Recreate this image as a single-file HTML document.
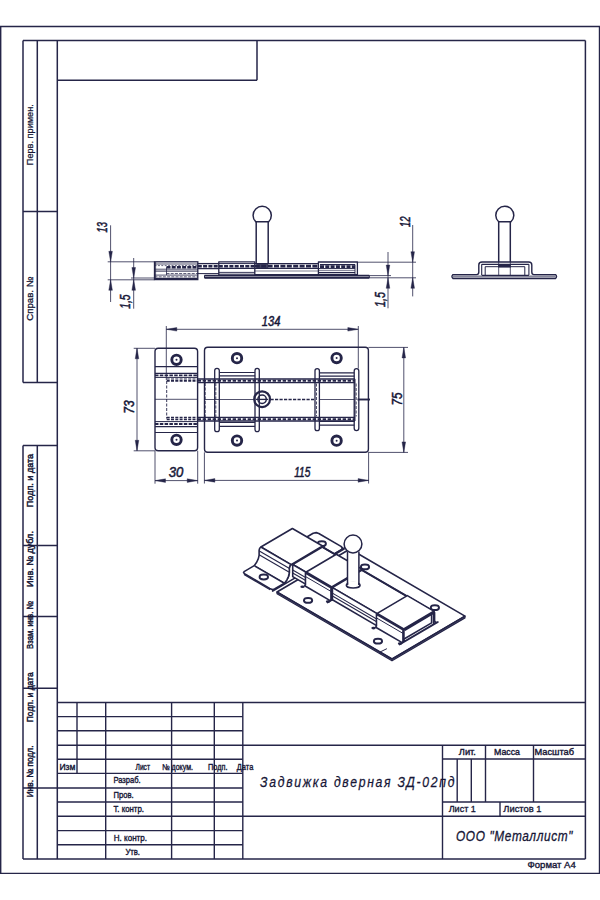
<!DOCTYPE html>
<html><head><meta charset="utf-8"><style>
html,body{margin:0;padding:0;background:#fff;width:600px;height:900px;overflow:hidden}
svg{display:block}
</style></head><body>
<svg width="600" height="900" viewBox="0 0 600 900">
<rect width="600" height="900" fill="#fff"/>
<line x1="0" y1="26.5" x2="600" y2="26.5" stroke="#252548" stroke-width="1.3" stroke-linecap="butt"/>
<line x1="0.7" y1="26" x2="0.7" y2="874" stroke="#252548" stroke-width="1.4" stroke-linecap="butt"/>
<line x1="599.4" y1="26" x2="599.4" y2="874" stroke="#252548" stroke-width="1.2" stroke-linecap="butt"/>
<line x1="0" y1="873.4" x2="600" y2="873.4" stroke="#252548" stroke-width="1.3" stroke-linecap="butt"/>
<line x1="23" y1="40.5" x2="585.4" y2="40.5" stroke="#252548" stroke-width="1.5" stroke-linecap="butt"/>
<line x1="23" y1="859" x2="585.4" y2="859" stroke="#252548" stroke-width="1.5" stroke-linecap="butt"/>
<line x1="57.3" y1="40.5" x2="57.3" y2="859" stroke="#252548" stroke-width="1.5" stroke-linecap="butt"/>
<line x1="585.4" y1="40.5" x2="585.4" y2="859" stroke="#252548" stroke-width="1.5" stroke-linecap="butt"/>
<line x1="23" y1="40.5" x2="23" y2="382.5" stroke="#252548" stroke-width="1.5" stroke-linecap="butt"/>
<line x1="37.3" y1="40.5" x2="37.3" y2="382.5" stroke="#252548" stroke-width="1.5" stroke-linecap="butt"/>
<line x1="23" y1="211.5" x2="57.3" y2="211.5" stroke="#252548" stroke-width="1.5" stroke-linecap="butt"/>
<line x1="23" y1="382.5" x2="57.3" y2="382.5" stroke="#252548" stroke-width="1.5" stroke-linecap="butt"/>
<line x1="23" y1="445.5" x2="23" y2="859" stroke="#252548" stroke-width="1.5" stroke-linecap="butt"/>
<line x1="37.3" y1="445.5" x2="37.3" y2="859" stroke="#252548" stroke-width="1.5" stroke-linecap="butt"/>
<line x1="23" y1="445.5" x2="57.3" y2="445.5" stroke="#252548" stroke-width="1.5" stroke-linecap="butt"/>
<line x1="23" y1="545.5" x2="57.3" y2="545.5" stroke="#252548" stroke-width="1.5" stroke-linecap="butt"/>
<line x1="23" y1="616.4" x2="57.3" y2="616.4" stroke="#252548" stroke-width="1.5" stroke-linecap="butt"/>
<line x1="23" y1="688.3" x2="57.3" y2="688.3" stroke="#252548" stroke-width="1.5" stroke-linecap="butt"/>
<line x1="57.3" y1="80.3" x2="257" y2="80.3" stroke="#252548" stroke-width="1.5" stroke-linecap="butt"/>
<line x1="257" y1="40.5" x2="257" y2="80.3" stroke="#252548" stroke-width="1.5" stroke-linecap="butt"/>
<line x1="57.3" y1="702.4" x2="585" y2="702.4" stroke="#252548" stroke-width="1.5" stroke-linecap="butt"/>
<line x1="57.3" y1="716.6" x2="242.8" y2="716.6" stroke="#252548" stroke-width="1.4" stroke-linecap="butt"/>
<line x1="57.3" y1="730.8" x2="242.8" y2="730.8" stroke="#252548" stroke-width="1.4" stroke-linecap="butt"/>
<line x1="57.3" y1="759.2" x2="242.8" y2="759.2" stroke="#252548" stroke-width="1.4" stroke-linecap="butt"/>
<line x1="57.3" y1="773.4" x2="242.8" y2="773.4" stroke="#252548" stroke-width="1.4" stroke-linecap="butt"/>
<line x1="57.3" y1="802.0" x2="242.8" y2="802.0" stroke="#252548" stroke-width="1.4" stroke-linecap="butt"/>
<line x1="57.3" y1="830.6" x2="242.8" y2="830.6" stroke="#252548" stroke-width="1.4" stroke-linecap="butt"/>
<line x1="57.3" y1="844.7" x2="242.8" y2="844.7" stroke="#252548" stroke-width="1.4" stroke-linecap="butt"/>
<line x1="57.3" y1="745.2" x2="585" y2="745.2" stroke="#252548" stroke-width="1.4" stroke-linecap="butt"/>
<line x1="23" y1="787.9" x2="242.8" y2="787.9" stroke="#252548" stroke-width="1.5" stroke-linecap="butt"/>
<line x1="57.3" y1="816.3" x2="585" y2="816.3" stroke="#252548" stroke-width="1.4" stroke-linecap="butt"/>
<line x1="442.5" y1="759.0" x2="585" y2="759.0" stroke="#252548" stroke-width="1.4" stroke-linecap="butt"/>
<line x1="442.5" y1="802.0" x2="585" y2="802.0" stroke="#252548" stroke-width="1.4" stroke-linecap="butt"/>
<line x1="77" y1="702.4" x2="77" y2="773.4" stroke="#252548" stroke-width="1.4" stroke-linecap="butt"/>
<line x1="105.7" y1="702.4" x2="105.7" y2="859" stroke="#252548" stroke-width="1.4" stroke-linecap="butt"/>
<line x1="171.6" y1="702.4" x2="171.6" y2="859" stroke="#252548" stroke-width="1.4" stroke-linecap="butt"/>
<line x1="214.3" y1="702.4" x2="214.3" y2="859" stroke="#252548" stroke-width="1.4" stroke-linecap="butt"/>
<line x1="242.8" y1="702.4" x2="242.8" y2="859" stroke="#252548" stroke-width="1.4" stroke-linecap="butt"/>
<line x1="442.5" y1="745.2" x2="442.5" y2="859" stroke="#252548" stroke-width="1.4" stroke-linecap="butt"/>
<line x1="457.2" y1="759" x2="457.2" y2="802" stroke="#252548" stroke-width="1.4" stroke-linecap="butt"/>
<line x1="471.3" y1="759" x2="471.3" y2="802" stroke="#252548" stroke-width="1.4" stroke-linecap="butt"/>
<line x1="485.5" y1="745.2" x2="485.5" y2="802" stroke="#252548" stroke-width="1.4" stroke-linecap="butt"/>
<line x1="533.5" y1="745.2" x2="533.5" y2="802" stroke="#252548" stroke-width="1.4" stroke-linecap="butt"/>
<line x1="500" y1="802" x2="500" y2="816.3" stroke="#252548" stroke-width="1.4" stroke-linecap="butt"/>
<text x="59.4" y="769.6" font-family="Liberation Sans" font-size="8.3" fill="#161636" textLength="16" lengthAdjust="spacingAndGlyphs" stroke="#161636" stroke-width="0.35">Изм</text>
<text x="135.5" y="769.6" font-family="Liberation Sans" font-size="8.3" fill="#161636" textLength="14.5" lengthAdjust="spacingAndGlyphs" stroke="#161636" stroke-width="0.35">Лист</text>
<text x="162" y="769.6" font-family="Liberation Sans" font-size="8.3" fill="#161636" textLength="31" lengthAdjust="spacingAndGlyphs" stroke="#161636" stroke-width="0.35">№ докум.</text>
<text x="208" y="769.6" font-family="Liberation Sans" font-size="8.3" fill="#161636" textLength="19.5" lengthAdjust="spacingAndGlyphs" stroke="#161636" stroke-width="0.35">Подп.</text>
<text x="236.8" y="769.6" font-family="Liberation Sans" font-size="8.3" fill="#161636" textLength="16.5" lengthAdjust="spacingAndGlyphs" stroke="#161636" stroke-width="0.35">Дата</text>
<text x="113.4" y="783.2" font-family="Liberation Sans" font-size="8.3" fill="#161636" textLength="27.2" lengthAdjust="spacingAndGlyphs" stroke="#161636" stroke-width="0.35">Разраб.</text>
<text x="113.4" y="797.6" font-family="Liberation Sans" font-size="8.3" fill="#161636" textLength="20.2" lengthAdjust="spacingAndGlyphs" stroke="#161636" stroke-width="0.35">Пров.</text>
<text x="113.4" y="811.6" font-family="Liberation Sans" font-size="8.3" fill="#161636" textLength="30.6" lengthAdjust="spacingAndGlyphs" stroke="#161636" stroke-width="0.35">Т. контр.</text>
<text x="113.8" y="840.8" font-family="Liberation Sans" font-size="8.3" fill="#161636" textLength="33.2" lengthAdjust="spacingAndGlyphs" stroke="#161636" stroke-width="0.35">Н. контр.</text>
<text x="125.4" y="854.8" font-family="Liberation Sans" font-size="8.3" fill="#161636" textLength="14.6" lengthAdjust="spacingAndGlyphs" stroke="#161636" stroke-width="0.35">Утв.</text>
<text x="458.8" y="755.4" font-family="Liberation Sans" font-size="8.3" fill="#161636" textLength="17.1" lengthAdjust="spacingAndGlyphs" stroke="#161636" stroke-width="0.35">Лит.</text>
<text x="494" y="755.4" font-family="Liberation Sans" font-size="8.3" fill="#161636" textLength="26" lengthAdjust="spacingAndGlyphs" stroke="#161636" stroke-width="0.35">Масса</text>
<text x="534.5" y="755.4" font-family="Liberation Sans" font-size="8.3" fill="#161636" textLength="39.5" lengthAdjust="spacingAndGlyphs" stroke="#161636" stroke-width="0.35">Масштаб</text>
<text x="448.7" y="812.2" font-family="Liberation Sans" font-size="8.3" fill="#161636" textLength="27.2" lengthAdjust="spacingAndGlyphs" stroke="#161636" stroke-width="0.3">Лист 1</text>
<text x="503.3" y="812.2" font-family="Liberation Sans" font-size="8.3" fill="#161636" textLength="38.2" lengthAdjust="spacingAndGlyphs" stroke="#161636" stroke-width="0.3">Листов 1</text>
<text x="527.5" y="868.4" font-family="Liberation Sans" font-size="9.4" fill="#161636" textLength="48.3" lengthAdjust="spacingAndGlyphs" stroke="#161636" stroke-width="0.35">Формат А4</text>
<text x="302.33" y="787.2" font-family="Liberation Sans" font-size="14.2" font-style="italic" fill="#161636" stroke="#161636" stroke-width="0.25" textLength="226.16" lengthAdjust="spacing" transform="scale(0.86,1)">Задвижка дверная ЗД-02пд</text>
<text x="530.23" y="841.2" font-family="Liberation Sans" font-size="13.8" font-style="italic" fill="#161636" stroke="#161636" stroke-width="0.3" textLength="135.47" lengthAdjust="spacing" transform="scale(0.86,1)">ООО "Металлист"</text>
<text x="33.2" y="165.2" font-family="Liberation Sans" font-size="9.0" fill="#161636" textLength="61" lengthAdjust="spacingAndGlyphs" stroke="#161636" stroke-width="0.25" transform="rotate(-90 33.2 165.2)">Перв. примен.</text>
<text x="32.8" y="320.7" font-family="Liberation Sans" font-size="9.0" fill="#161636" textLength="43.7" lengthAdjust="spacingAndGlyphs" stroke="#161636" stroke-width="0.3" transform="rotate(-90 32.8 320.7)">Справ. №</text>
<text x="32.9" y="507.2" font-family="Liberation Sans" font-size="9.0" fill="#161636" textLength="53.3" lengthAdjust="spacingAndGlyphs" stroke="#161636" stroke-width="0.45" transform="rotate(-90 32.9 507.2)">Подп. и дата</text>
<text x="32.9" y="587.1" font-family="Liberation Sans" font-size="9.0" fill="#161636" textLength="56" lengthAdjust="spacingAndGlyphs" stroke="#161636" stroke-width="0.45" transform="rotate(-90 32.9 587.1)">Инв. № дубл.</text>
<text x="32.9" y="648.9" font-family="Liberation Sans" font-size="9.0" fill="#161636" textLength="47.6" lengthAdjust="spacingAndGlyphs" stroke="#161636" stroke-width="0.45" transform="rotate(-90 32.9 648.9)">Взам. инв. №</text>
<text x="32.9" y="722.2" font-family="Liberation Sans" font-size="9.0" fill="#161636" textLength="49.8" lengthAdjust="spacingAndGlyphs" stroke="#161636" stroke-width="0.45" transform="rotate(-90 32.9 722.2)">Подп. и дата</text>
<text x="32.9" y="797.2" font-family="Liberation Sans" font-size="9.0" fill="#161636" textLength="51.7" lengthAdjust="spacingAndGlyphs" stroke="#161636" stroke-width="0.45" transform="rotate(-90 32.9 797.2)">Инв. № подл.</text>
<line x1="110.6" y1="225.3" x2="110.6" y2="302" stroke="#252548" stroke-width="0.8" stroke-linecap="butt"/>
<polygon points="110.60,261.80 108.80,251.30 112.40,251.30" fill="#252548" stroke="#252548" stroke-width="0.4"/>
<polygon points="110.60,279.80 112.40,290.30 108.80,290.30" fill="#252548" stroke="#252548" stroke-width="0.4"/>
<line x1="107.7" y1="261.8" x2="154.5" y2="261.8" stroke="#252548" stroke-width="0.8" stroke-linecap="butt"/>
<line x1="107.7" y1="279.8" x2="154.5" y2="279.8" stroke="#252548" stroke-width="0.8" stroke-linecap="butt"/>
<text x="107.2" y="232.4" font-family="Liberation Sans" font-size="14" fill="#161636" font-style="italic" textLength="10.4" lengthAdjust="spacingAndGlyphs" stroke="#161636" stroke-width="0.5" transform="rotate(-90 107.2 232.4)">13</text>
<line x1="133.7" y1="258" x2="133.7" y2="308.7" stroke="#252548" stroke-width="0.8" stroke-linecap="butt"/>
<polygon points="133.70,278.00 131.90,267.50 135.50,267.50" fill="#252548" stroke="#252548" stroke-width="0.4"/>
<polygon points="133.70,279.80 135.50,290.30 131.90,290.30" fill="#252548" stroke="#252548" stroke-width="0.4"/>
<line x1="131" y1="278.0" x2="154.5" y2="278.0" stroke="#252548" stroke-width="0.8" stroke-linecap="butt"/>
<text x="130.4" y="308.8" font-family="Liberation Sans" font-size="14" fill="#161636" font-style="italic" textLength="14.3" lengthAdjust="spacingAndGlyphs" stroke="#161636" stroke-width="0.5" transform="rotate(-90 130.4 308.8)">1,5</text>
<rect x="154.5" y="261.8" width="43.30000000000001" height="17.80000000000001" rx="0" fill="none" stroke="#252548" stroke-width="1.3"/>
<line x1="155.6" y1="262" x2="155.6" y2="279.4" stroke="#252548" stroke-width="0.8" stroke-linecap="butt"/>
<line x1="154.5" y1="264.0" x2="197.8" y2="264.0" stroke="#252548" stroke-width="0.8" stroke-linecap="butt"/>
<line x1="154.5" y1="265.6" x2="197.8" y2="265.6" stroke="#252548" stroke-width="0.7" stroke-linecap="butt" stroke-dasharray="2,1.4"/>
<line x1="166.5" y1="267.2" x2="197.8" y2="267.2" stroke="#252548" stroke-width="2.4" stroke-linecap="butt" stroke-dasharray="4,1.2"/>
<line x1="154.5" y1="269.2" x2="197.8" y2="269.2" stroke="#252548" stroke-width="0.8" stroke-linecap="butt"/>
<line x1="154.5" y1="271.1" x2="197.8" y2="271.1" stroke="#252548" stroke-width="1.0" stroke-linecap="butt"/>
<line x1="166.5" y1="273.6" x2="197.8" y2="273.6" stroke="#252548" stroke-width="0.8" stroke-linecap="butt" stroke-dasharray="3,1.2"/>
<line x1="154.5" y1="275.1" x2="197.8" y2="275.1" stroke="#252548" stroke-width="0.8" stroke-linecap="butt"/>
<line x1="154.5" y1="276.8" x2="197.8" y2="276.8" stroke="#252548" stroke-width="0.7" stroke-linecap="butt" stroke-dasharray="3,1.2"/>
<line x1="154.5" y1="278.4" x2="197.8" y2="278.4" stroke="#252548" stroke-width="1.3" stroke-linecap="butt"/>
<line x1="166.5" y1="267.2" x2="166.5" y2="275" stroke="#252548" stroke-width="0.8" stroke-linecap="butt"/>
<line x1="197.8" y1="263.6" x2="218.8" y2="263.6" stroke="#252548" stroke-width="1.3" stroke-linecap="butt"/>
<line x1="197.8" y1="266.2" x2="218.8" y2="266.2" stroke="#252548" stroke-width="2.6" stroke-linecap="butt" stroke-dasharray="4,1.3"/>
<line x1="197.8" y1="268.6" x2="218.8" y2="268.6" stroke="#252548" stroke-width="1.3" stroke-linecap="butt"/>
<line x1="197.8" y1="273.6" x2="218.8" y2="273.6" stroke="#252548" stroke-width="1.0" stroke-linecap="butt"/>
<rect x="204.5" y="275.3" width="164.8" height="3.0" fill="#252548" opacity="0.55"/>
<polyline points="204.50,275.40 369.30,275.40" fill="none" stroke="#252548" stroke-width="1.1" stroke-linejoin="round"/>
<polyline points="204.50,277.90 369.30,277.90" fill="none" stroke="#252548" stroke-width="1.6" stroke-linejoin="round"/>
<line x1="204.5" y1="275.4" x2="204.5" y2="278" stroke="#252548" stroke-width="1.0" stroke-linecap="butt"/>
<line x1="369.3" y1="275.4" x2="369.3" y2="278" stroke="#252548" stroke-width="1.0" stroke-linecap="butt"/>
<polyline points="218.80,275.40 218.80,261.80 254.80,261.80 254.80,275.40" fill="none" stroke="#252548" stroke-width="1.3" stroke-linejoin="round"/>
<line x1="218.8" y1="263.6" x2="254.8" y2="263.6" stroke="#252548" stroke-width="1.0" stroke-linecap="butt"/>
<line x1="218.8" y1="266.2" x2="254.8" y2="266.2" stroke="#252548" stroke-width="2.6" stroke-linecap="butt" stroke-dasharray="4,1.3"/>
<line x1="218.8" y1="268.4" x2="254.8" y2="268.4" stroke="#252548" stroke-width="1.3" stroke-linecap="butt"/>
<line x1="218.8" y1="272.4" x2="254.8" y2="272.4" stroke="#252548" stroke-width="0.9" stroke-linecap="butt"/>
<line x1="218.8" y1="274.2" x2="254.8" y2="274.2" stroke="#252548" stroke-width="1.0" stroke-linecap="butt"/>
<line x1="254.8" y1="263.6" x2="318.4" y2="263.6" stroke="#252548" stroke-width="1.4" stroke-linecap="butt"/>
<line x1="254.8" y1="266.2" x2="318.4" y2="266.2" stroke="#252548" stroke-width="2.8" stroke-linecap="butt" stroke-dasharray="5,1.4"/>
<line x1="254.8" y1="268.4" x2="318.4" y2="268.4" stroke="#252548" stroke-width="1.4" stroke-linecap="butt"/>
<line x1="254.8" y1="271.0" x2="318.4" y2="271.0" stroke="#252548" stroke-width="0.6" stroke-linecap="butt"/>
<line x1="254.8" y1="274.8" x2="318.4" y2="274.8" stroke="#252548" stroke-width="1.4" stroke-linecap="butt"/>
<polyline points="318.40,275.40 318.40,262.00 357.40,262.00 357.40,275.40" fill="none" stroke="#252548" stroke-width="1.3" stroke-linejoin="round"/>
<line x1="320" y1="264.6" x2="355" y2="264.6" stroke="#252548" stroke-width="1.3" stroke-linecap="butt"/>
<line x1="320" y1="266.6" x2="355" y2="266.6" stroke="#252548" stroke-width="2.6" stroke-linecap="butt" stroke-dasharray="4,1.3"/>
<line x1="318.4" y1="268.6" x2="355" y2="268.6" stroke="#252548" stroke-width="1.0" stroke-linecap="butt"/>
<line x1="318.4" y1="270.6" x2="355" y2="270.6" stroke="#252548" stroke-width="0.6" stroke-linecap="butt"/>
<line x1="318.4" y1="272.6" x2="355" y2="272.6" stroke="#252548" stroke-width="1.3" stroke-linecap="butt"/>
<line x1="318.4" y1="274.5" x2="357.4" y2="274.5" stroke="#252548" stroke-width="1.0" stroke-linecap="butt"/>
<line x1="355" y1="264.6" x2="355" y2="274.5" stroke="#252548" stroke-width="0.9" stroke-linecap="butt"/>
<path d="M255.73,221.80 A9.1,9.1 0 1 1 268.67,221.80 Z" fill="none" stroke="#252548" stroke-width="1.5" stroke-linejoin="round" />
<line x1="256.2" y1="221.8" x2="256.2" y2="263.0" stroke="#252548" stroke-width="1.5" stroke-linecap="butt"/>
<line x1="268.2" y1="221.8" x2="268.2" y2="263.0" stroke="#252548" stroke-width="1.5" stroke-linecap="butt"/>
<rect x="256.2" y="263" width="12" height="5.5" fill="#252548" opacity="0.85"/>
<line x1="357.4" y1="262.2" x2="416" y2="262.2" stroke="#252548" stroke-width="0.8" stroke-linecap="butt"/>
<line x1="369.3" y1="277.8" x2="416" y2="277.8" stroke="#252548" stroke-width="0.8" stroke-linecap="butt"/>
<line x1="369.3" y1="275.6" x2="391" y2="275.6" stroke="#252548" stroke-width="0.8" stroke-linecap="butt"/>
<line x1="412.7" y1="225" x2="412.7" y2="296.4" stroke="#252548" stroke-width="0.8" stroke-linecap="butt"/>
<polygon points="412.70,262.20 410.90,251.70 414.50,251.70" fill="#252548" stroke="#252548" stroke-width="0.4"/>
<polygon points="412.70,277.80 414.50,288.30 410.90,288.30" fill="#252548" stroke="#252548" stroke-width="0.4"/>
<text x="410.0" y="227.1" font-family="Liberation Sans" font-size="14" fill="#161636" font-style="italic" textLength="10.6" lengthAdjust="spacingAndGlyphs" stroke="#161636" stroke-width="0.5" transform="rotate(-90 410.0 227.1)">12</text>
<line x1="388" y1="252" x2="388" y2="308.3" stroke="#252548" stroke-width="0.8" stroke-linecap="butt"/>
<polygon points="388.00,275.60 386.20,265.10 389.80,265.10" fill="#252548" stroke="#252548" stroke-width="0.4"/>
<polygon points="388.00,277.80 389.80,288.30 386.20,288.30" fill="#252548" stroke="#252548" stroke-width="0.4"/>
<text x="385.2" y="307.1" font-family="Liberation Sans" font-size="14" fill="#161636" font-style="italic" textLength="15.2" lengthAdjust="spacingAndGlyphs" stroke="#161636" stroke-width="0.5" transform="rotate(-90 385.2 307.1)">1,5</text>
<path d="M498.68,221.80 A9.0,9.0 0 1 1 510.92,221.80 Z" fill="none" stroke="#252548" stroke-width="1.5" stroke-linejoin="round" />
<line x1="498.7" y1="221.8" x2="498.7" y2="262" stroke="#252548" stroke-width="1.5" stroke-linecap="butt"/>
<line x1="510.3" y1="221.8" x2="510.3" y2="262" stroke="#252548" stroke-width="1.5" stroke-linecap="butt"/>
<line x1="498.7" y1="262" x2="498.7" y2="275" stroke="#252548" stroke-width="0.8" stroke-linecap="butt"/>
<line x1="510.3" y1="262" x2="510.3" y2="275" stroke="#252548" stroke-width="0.8" stroke-linecap="butt"/>
<path d="M453,274.6 L476.5,274.6 Q478.8,274.6 478.8,272 L478.8,265 Q478.8,262 482,262 L528.6,262 Q531.8,262 531.8,265 L531.8,272 Q531.8,274.6 534,274.6 L555.5,274.6 Q557.6,276.5 555.5,278.6 L453,278.6 Q450.9,276.5 453,274.6 Z" fill="none" stroke="#252548" stroke-width="1.4" stroke-linejoin="round" />
<rect x="453" y="275.4" width="102.5" height="2.4" fill="#252548" opacity="0.55"/>
<line x1="481.7" y1="264.3" x2="528.9" y2="264.3" stroke="#252548" stroke-width="1.3" stroke-linecap="butt"/>
<line x1="481.7" y1="264.3" x2="481.7" y2="275" stroke="#252548" stroke-width="1.1" stroke-linecap="butt"/>
<line x1="528.9" y1="264.3" x2="528.9" y2="275" stroke="#252548" stroke-width="1.1" stroke-linecap="butt"/>
<line x1="485.2" y1="266.7" x2="524.8" y2="266.7" stroke="#252548" stroke-width="1.0" stroke-linecap="butt"/>
<line x1="485.2" y1="266.7" x2="485.2" y2="275" stroke="#252548" stroke-width="1.0" stroke-linecap="butt"/>
<line x1="524.8" y1="266.7" x2="524.8" y2="275" stroke="#252548" stroke-width="1.0" stroke-linecap="butt"/>
<line x1="481.7" y1="275.4" x2="528.9" y2="275.4" stroke="#252548" stroke-width="1.4" stroke-linecap="butt"/>
<rect x="498.2" y="264.3" width="12.6" height="3.2" fill="#252548"/>
<line x1="166.3" y1="326" x2="166.3" y2="380" stroke="#252548" stroke-width="0.8" stroke-linecap="butt"/>
<line x1="358.3" y1="326" x2="358.3" y2="368.5" stroke="#252548" stroke-width="0.8" stroke-linecap="butt"/>
<line x1="166.3" y1="329.3" x2="357.8" y2="329.3" stroke="#252548" stroke-width="0.8" stroke-linecap="butt"/>
<polygon points="166.30,329.30 176.80,327.50 176.80,331.10" fill="#252548" stroke="#252548" stroke-width="0.4"/>
<polygon points="358.30,329.30 347.80,331.10 347.80,327.50" fill="#252548" stroke="#252548" stroke-width="0.4"/>
<text x="261.8" y="325.8" font-family="Liberation Sans" font-size="14" fill="#161636" font-style="italic" textLength="18.6" lengthAdjust="spacingAndGlyphs" stroke="#161636" stroke-width="0.5">134</text>
<line x1="133.7" y1="348.3" x2="155" y2="348.3" stroke="#252548" stroke-width="0.8" stroke-linecap="butt"/>
<line x1="133.7" y1="450.8" x2="155" y2="450.8" stroke="#252548" stroke-width="0.8" stroke-linecap="butt"/>
<line x1="137" y1="348.3" x2="137" y2="450.8" stroke="#252548" stroke-width="0.8" stroke-linecap="butt"/>
<polygon points="137.00,348.30 138.80,358.80 135.20,358.80" fill="#252548" stroke="#252548" stroke-width="0.4"/>
<polygon points="137.00,450.80 135.20,440.30 138.80,440.30" fill="#252548" stroke="#252548" stroke-width="0.4"/>
<text x="133.8" y="413.8" font-family="Liberation Sans" font-size="14" fill="#161636" font-style="italic" textLength="13.4" lengthAdjust="spacingAndGlyphs" stroke="#161636" stroke-width="0.5" transform="rotate(-90 133.8 413.8)">73</text>
<line x1="368.4" y1="347.4" x2="408" y2="347.4" stroke="#252548" stroke-width="0.8" stroke-linecap="butt"/>
<line x1="368.4" y1="452.4" x2="408" y2="452.4" stroke="#252548" stroke-width="0.8" stroke-linecap="butt"/>
<line x1="403.8" y1="347.4" x2="403.8" y2="452.4" stroke="#252548" stroke-width="0.8" stroke-linecap="butt"/>
<polygon points="403.80,347.40 405.60,357.90 402.00,357.90" fill="#252548" stroke="#252548" stroke-width="0.4"/>
<polygon points="403.80,452.40 402.00,441.90 405.60,441.90" fill="#252548" stroke="#252548" stroke-width="0.4"/>
<text x="401.7" y="405.5" font-family="Liberation Sans" font-size="14" fill="#161636" font-style="italic" textLength="13.0" lengthAdjust="spacingAndGlyphs" stroke="#161636" stroke-width="0.5" transform="rotate(-90 401.7 405.5)">75</text>
<line x1="155" y1="450.8" x2="155" y2="483.7" stroke="#252548" stroke-width="0.8" stroke-linecap="butt"/>
<line x1="197.7" y1="450.8" x2="197.7" y2="483.7" stroke="#252548" stroke-width="0.8" stroke-linecap="butt"/>
<line x1="155" y1="480.6" x2="197.7" y2="480.6" stroke="#252548" stroke-width="0.8" stroke-linecap="butt"/>
<polygon points="155.00,480.60 165.50,478.80 165.50,482.40" fill="#252548" stroke="#252548" stroke-width="0.4"/>
<polygon points="197.70,480.60 187.20,482.40 187.20,478.80" fill="#252548" stroke="#252548" stroke-width="0.4"/>
<text x="168.8" y="477.3" font-family="Liberation Sans" font-size="14" fill="#161636" font-style="italic" textLength="14.6" lengthAdjust="spacingAndGlyphs" stroke="#161636" stroke-width="0.5">30</text>
<line x1="204.4" y1="452.3" x2="204.4" y2="483.5" stroke="#252548" stroke-width="0.8" stroke-linecap="butt"/>
<line x1="368.6" y1="452.3" x2="368.6" y2="483.5" stroke="#252548" stroke-width="0.8" stroke-linecap="butt"/>
<line x1="204.4" y1="480.4" x2="368.6" y2="480.4" stroke="#252548" stroke-width="0.8" stroke-linecap="butt"/>
<polygon points="204.40,480.40 214.90,478.60 214.90,482.20" fill="#252548" stroke="#252548" stroke-width="0.4"/>
<polygon points="368.60,480.40 358.10,482.20 358.10,478.60" fill="#252548" stroke="#252548" stroke-width="0.4"/>
<text x="294.2" y="477.2" font-family="Liberation Sans" font-size="14" fill="#161636" font-style="italic" textLength="16.2" lengthAdjust="spacingAndGlyphs" stroke="#161636" stroke-width="0.5">115</text>
<rect x="155" y="348.3" width="42.599999999999994" height="102.5" rx="3.2" fill="none" stroke="#252548" stroke-width="1.4"/>
<circle cx="176.5" cy="359.8" r="4.7" fill="none" stroke="#252548" stroke-width="2.9"/>
<circle cx="176.5" cy="359.8" r="1.0" fill="#252548" stroke="#252548" stroke-width="0"/>
<circle cx="176.5" cy="439.8" r="4.7" fill="none" stroke="#252548" stroke-width="2.9"/>
<circle cx="176.5" cy="439.8" r="1.0" fill="#252548" stroke="#252548" stroke-width="0"/>
<line x1="155" y1="366.7" x2="197.6" y2="366.7" stroke="#252548" stroke-width="1.2" stroke-linecap="butt"/>
<line x1="155" y1="373.3" x2="197.6" y2="373.3" stroke="#252548" stroke-width="1.2" stroke-linecap="butt"/>
<line x1="155" y1="377.4" x2="197.6" y2="377.4" stroke="#252548" stroke-width="1.0" stroke-linecap="butt"/>
<line x1="155" y1="421.6" x2="197.6" y2="421.6" stroke="#252548" stroke-width="1.0" stroke-linecap="butt"/>
<line x1="155" y1="426.6" x2="197.6" y2="426.6" stroke="#252548" stroke-width="1.2" stroke-linecap="butt"/>
<line x1="155" y1="432.5" x2="197.6" y2="432.5" stroke="#252548" stroke-width="1.2" stroke-linecap="butt"/>
<line x1="155" y1="375.4" x2="197.6" y2="375.4" stroke="#252548" stroke-width="1.9" stroke-linecap="butt" stroke-dasharray="3.5,1.3"/>
<line x1="155" y1="424.0" x2="197.6" y2="424.0" stroke="#252548" stroke-width="1.9" stroke-linecap="butt" stroke-dasharray="3.5,1.3"/>
<line x1="166.7" y1="379.0" x2="197.6" y2="379.0" stroke="#252548" stroke-width="1.1" stroke-linecap="butt" stroke-dasharray="3,1.3"/>
<line x1="166.7" y1="380.9" x2="197.6" y2="380.9" stroke="#252548" stroke-width="1.8" stroke-linecap="butt" stroke-dasharray="3,1.3"/>
<line x1="166.7" y1="417.4" x2="197.6" y2="417.4" stroke="#252548" stroke-width="1.1" stroke-linecap="butt" stroke-dasharray="3,1.3"/>
<line x1="166.7" y1="419.3" x2="197.6" y2="419.3" stroke="#252548" stroke-width="1.8" stroke-linecap="butt" stroke-dasharray="3,1.3"/>
<line x1="166.7" y1="381" x2="166.7" y2="418.6" stroke="#252548" stroke-width="0.9" stroke-linecap="butt" stroke-dasharray="3,1.5"/>
<line x1="155" y1="399.3" x2="197.6" y2="399.3" stroke="#252548" stroke-width="0.8" stroke-linecap="butt"/>
<rect x="204.5" y="347.3" width="163.89999999999998" height="105.0" rx="3.2" fill="none" stroke="#252548" stroke-width="1.4"/>
<circle cx="237" cy="358.2" r="4.7" fill="none" stroke="#252548" stroke-width="2.9"/>
<circle cx="237" cy="358.2" r="1.0" fill="#252548" stroke="#252548" stroke-width="0"/>
<circle cx="237" cy="440.6" r="4.7" fill="none" stroke="#252548" stroke-width="2.9"/>
<circle cx="237" cy="440.6" r="1.0" fill="#252548" stroke="#252548" stroke-width="0"/>
<circle cx="336.6" cy="358.1" r="4.7" fill="none" stroke="#252548" stroke-width="2.9"/>
<circle cx="336.6" cy="358.1" r="1.0" fill="#252548" stroke="#252548" stroke-width="0"/>
<circle cx="336.6" cy="440.7" r="4.7" fill="none" stroke="#252548" stroke-width="2.9"/>
<circle cx="336.6" cy="440.7" r="1.0" fill="#252548" stroke="#252548" stroke-width="0"/>
<line x1="197.6" y1="378.9" x2="355" y2="378.9" stroke="#252548" stroke-width="1.5" stroke-linecap="butt"/>
<line x1="197.6" y1="380.8" x2="355" y2="380.8" stroke="#252548" stroke-width="1.9" stroke-linecap="butt" stroke-dasharray="3.5,1.5"/>
<line x1="197.6" y1="382.6" x2="355" y2="382.6" stroke="#252548" stroke-width="1.4" stroke-linecap="butt"/>
<line x1="197.6" y1="417.4" x2="355" y2="417.4" stroke="#252548" stroke-width="1.4" stroke-linecap="butt"/>
<line x1="197.6" y1="419.2" x2="355" y2="419.2" stroke="#252548" stroke-width="1.9" stroke-linecap="butt" stroke-dasharray="3.5,1.5"/>
<line x1="197.6" y1="421.0" x2="355" y2="421.0" stroke="#252548" stroke-width="1.5" stroke-linecap="butt"/>
<line x1="205.2" y1="383" x2="205.2" y2="417" stroke="#252548" stroke-width="0.8" stroke-linecap="butt" stroke-dasharray="3,1.5"/>
<line x1="215.8" y1="383" x2="215.8" y2="417" stroke="#252548" stroke-width="0.8" stroke-linecap="butt" stroke-dasharray="3,1.5"/>
<line x1="355" y1="378.9" x2="355" y2="421" stroke="#252548" stroke-width="1.0" stroke-linecap="butt"/>
<line x1="205" y1="399.5" x2="254" y2="399.5" stroke="#252548" stroke-width="0.8" stroke-linecap="butt"/>
<line x1="270.5" y1="399.5" x2="314" y2="399.5" stroke="#252548" stroke-width="1.7" stroke-linecap="butt" stroke-dasharray="3.2,1.3"/>
<line x1="319.4" y1="399.5" x2="354.2" y2="399.5" stroke="#252548" stroke-width="0.8" stroke-linecap="butt"/>
<line x1="357.5" y1="399.5" x2="370" y2="399.5" stroke="#252548" stroke-width="1.9" stroke-linecap="butt"/>
<line x1="256" y1="399.4" x2="268.2" y2="399.4" stroke="#252548" stroke-width="1.3" stroke-linecap="butt"/>
<line x1="316.5" y1="383.5" x2="316.5" y2="416.5" stroke="#252548" stroke-width="0.8" stroke-linecap="butt" stroke-dasharray="3,1.5"/>
<line x1="356.2" y1="383.5" x2="356.2" y2="416.5" stroke="#252548" stroke-width="0.8" stroke-linecap="butt" stroke-dasharray="3,1.5"/>
<rect x="214.7" y="368.3" width="4.600000000000023" height="63.39999999999998" rx="2.3000000000000114" fill="none" stroke="#252548" stroke-width="1.3"/>
<rect x="255" y="368.3" width="4.300000000000011" height="63.39999999999998" rx="2.1500000000000057" fill="none" stroke="#252548" stroke-width="1.3"/>
<line x1="219.3" y1="372.5" x2="255" y2="372.5" stroke="#252548" stroke-width="1.2" stroke-linecap="butt"/>
<line x1="219.3" y1="375.8" x2="255" y2="375.8" stroke="#252548" stroke-width="1.2" stroke-linecap="butt"/>
<line x1="219.3" y1="422.5" x2="255" y2="422.5" stroke="#252548" stroke-width="1.2" stroke-linecap="butt"/>
<line x1="219.3" y1="426.3" x2="255" y2="426.3" stroke="#252548" stroke-width="1.2" stroke-linecap="butt"/>
<rect x="315" y="368.6" width="4.399999999999977" height="62.0" rx="2.1999999999999886" fill="none" stroke="#252548" stroke-width="1.3"/>
<rect x="354.2" y="368.6" width="4.600000000000023" height="62.0" rx="2.3000000000000114" fill="none" stroke="#252548" stroke-width="1.3"/>
<line x1="319.4" y1="372.8" x2="354.2" y2="372.8" stroke="#252548" stroke-width="1.2" stroke-linecap="butt"/>
<line x1="319.4" y1="376.1" x2="354.2" y2="376.1" stroke="#252548" stroke-width="1.2" stroke-linecap="butt"/>
<line x1="319.4" y1="421.40000000000003" x2="354.2" y2="421.40000000000003" stroke="#252548" stroke-width="1.2" stroke-linecap="butt"/>
<line x1="319.4" y1="425.20000000000005" x2="354.2" y2="425.20000000000005" stroke="#252548" stroke-width="1.2" stroke-linecap="butt"/>
<circle cx="262.1" cy="399.2" r="7.9" fill="none" stroke="#252548" stroke-width="2.2"/>
<circle cx="262.1" cy="399.2" r="4.2" fill="none" stroke="#252548" stroke-width="1.5"/>
<polygon points="297.12,542.71 313.17,533.25 316.21,532.63 318.80,533.46 341.00,546.40 342.41,547.91 341.37,549.69 325.31,559.15" fill="#fff" stroke="#252548" stroke-width="1.6" stroke-linejoin="round"/>
<ellipse cx="321.80" cy="543.64" rx="4.08" ry="2.38" fill="#fff" stroke="#252548" stroke-width="2.0"/>
<polygon points="272.68,591.16 272.68,590.15 284.45,583.21 286.88,579.86 288.54,576.29 289.31,573.00 289.31,567.92 289.90,565.88 291.07,564.63 322.59,546.06 323.76,545.94 324.34,547.29 324.34,552.38 325.12,554.74 326.77,556.37 329.21,556.86 344.00,548.15 344.00,549.16" fill="#fff" stroke="#252548" stroke-width="1.6" stroke-linejoin="round"/>
<polygon points="260.87,547.02 291.07,564.63 322.59,546.06 292.39,528.46" fill="#fff" stroke="#252548" stroke-width="1.6" stroke-linejoin="round"/>
<polygon points="254.25,565.61 256.68,562.25 258.34,558.68 259.11,555.40 259.11,550.31 259.70,548.27 260.87,547.02 291.07,564.63 289.90,565.88 289.31,567.92 289.31,573.00 288.54,576.29 286.88,579.86 284.45,583.21" fill="#fff" stroke="none"/>
<polyline points="254.25,565.61 256.68,562.25 258.34,558.68 259.11,555.40 259.11,550.31 259.70,548.27 260.87,547.02" fill="none" stroke="#252548" stroke-width="1.6" stroke-linejoin="round"/>
<polyline points="284.45,583.21 286.88,579.86 288.54,576.29 289.31,573.00 289.31,567.92 289.90,565.88 291.07,564.63" fill="none" stroke="#252548" stroke-width="1.6" stroke-linejoin="round"/>
<polyline points="260.87,547.02 291.07,564.63" fill="none" stroke="#252548" stroke-width="1.6" stroke-linejoin="round"/>
<polyline points="259.31,550.99 289.51,568.60" fill="none" stroke="#252548" stroke-width="1.1" stroke-linejoin="round"/>
<polyline points="259.11,554.72 289.31,572.33" fill="none" stroke="#252548" stroke-width="1.1" stroke-linejoin="round"/>
<polyline points="254.25,565.61 284.45,583.21" fill="none" stroke="#252548" stroke-width="1.1" stroke-linejoin="round"/>
<polygon points="254.25,565.61 244.52,571.34 243.56,572.60 244.48,573.71 269.68,588.40 272.26,589.45 274.52,589.06 284.45,583.21" fill="#fff" stroke="#252548" stroke-width="1.6" stroke-linejoin="round"/>
<polyline points="243.98,574.43 270.18,589.71" fill="none" stroke="#252548" stroke-width="1.2" stroke-linejoin="round"/>
<ellipse cx="263.79" cy="576.98" rx="4.20" ry="2.45" fill="#fff" stroke="#252548" stroke-width="2.0"/>
<polygon points="277.00,592.00 392.00,659.04 464.98,616.07 349.98,549.02" fill="#fff" stroke="#252548" stroke-width="1.6" stroke-linejoin="round"/>
<polygon points="277.00,592.00 392.00,659.04 464.98,616.07 464.98,617.88 392.00,660.85 277.00,593.81" fill="#252548" fill-opacity="0.55" stroke="#252548" stroke-width="1.2" stroke-linejoin="round"/>
<ellipse cx="308.07" cy="600.42" rx="4.08" ry="2.38" fill="#fff" stroke="#252548" stroke-width="2.0"/>
<ellipse cx="377.97" cy="641.17" rx="4.08" ry="2.38" fill="#fff" stroke="#252548" stroke-width="2.0"/>
<ellipse cx="364.99" cy="566.90" rx="4.08" ry="2.38" fill="#fff" stroke="#252548" stroke-width="2.0"/>
<ellipse cx="434.89" cy="607.65" rx="4.08" ry="2.38" fill="#fff" stroke="#252548" stroke-width="2.0"/>
<polyline points="380.00,653.97 380.00,652.05 386.92,648.67" fill="none" stroke="#252548" stroke-width="1.0" stroke-linejoin="round"/>
<polygon points="292.72,564.44 332.42,587.59 362.10,570.11 322.40,546.97" fill="#fff" stroke="#252548" stroke-width="1.6" stroke-linejoin="round"/>
<polygon points="292.72,576.65 332.42,599.79 332.42,587.59 292.72,564.44" fill="#fff" stroke="#252548" stroke-width="1.6" stroke-linejoin="round"/>
<polyline points="292.72,572.92 332.42,596.07" fill="none" stroke="#252548" stroke-width="1.1" stroke-linejoin="round"/>
<polyline points="292.72,569.98 332.42,593.13" fill="none" stroke="#252548" stroke-width="1.1" stroke-linejoin="round"/>
<polyline points="322.40,546.97 362.10,570.11" fill="none" stroke="#252548" stroke-width="1.9" stroke-linejoin="round"/>
<path d="M327.55,602.66 330.18,599.98 330.96,597.26 330.96,589.35 331.74,586.86 361.80,569.16 362.58,570.73 362.58,578.64 363.36,580.44 365.99,580.03 Z M331.93,599.74 331.93,588.44 332.52,587.53 361.03,570.74 361.61,570.97 361.61,582.26 Z" fill="#fff" fill-rule="evenodd" stroke="#252548" stroke-width="1.6" stroke-linejoin="round"/>
<polygon points="306.24,571.99 331.74,586.86 361.80,569.16 336.30,554.29" fill="#fff" stroke="#252548" stroke-width="1.6" stroke-linejoin="round"/>
<polygon points="305.46,573.02 330.96,587.88 330.96,599.52 330.18,600.66 304.68,585.79 305.46,584.66" fill="#fff" stroke="#252548" stroke-width="1.6" stroke-linejoin="round"/>
<polyline points="305.46,576.52 330.96,591.39" fill="none" stroke="#252548" stroke-width="1.0" stroke-linejoin="round"/>
<polyline points="305.46,573.02 306.24,571.99" fill="none" stroke="#252548" stroke-width="1.6" stroke-linejoin="round"/>
<ellipse cx="302.53" cy="586.70" rx="2.2" ry="1.3" fill="#252548"/>
<ellipse cx="328.03" cy="601.57" rx="2.2" ry="1.3" fill="#252548"/>
<polygon points="332.42,587.59 377.92,614.12 407.60,596.64 362.10,570.11" fill="#fff" stroke="#252548" stroke-width="1.6" stroke-linejoin="round"/>
<polygon points="332.42,599.79 377.92,626.32 377.92,614.12 332.42,587.59" fill="#fff" stroke="#252548" stroke-width="1.6" stroke-linejoin="round"/>
<polyline points="332.42,596.07 377.92,622.59" fill="none" stroke="#252548" stroke-width="1.1" stroke-linejoin="round"/>
<polyline points="332.42,593.13 377.92,619.65" fill="none" stroke="#252548" stroke-width="1.1" stroke-linejoin="round"/>
<polyline points="362.10,570.11 407.60,596.64" fill="none" stroke="#252548" stroke-width="1.9" stroke-linejoin="round"/>
<rect x="347.50" y="551.50" width="11.4" height="33.80" fill="#fff" stroke="none"/>
<ellipse cx="353.20" cy="585.30" rx="6.8" ry="2.7" fill="#fff" stroke="#252548" stroke-width="1.7"/>
<rect x="348.20" y="581.30" width="10" height="3.6" fill="#fff"/>
<line x1="347.5" y1="551.5" x2="347.5" y2="585.0" stroke="#252548" stroke-width="1.5" stroke-linecap="butt"/>
<line x1="358.9" y1="551.5" x2="358.9" y2="585.0" stroke="#252548" stroke-width="1.5" stroke-linecap="butt"/>
<circle cx="353" cy="544" r="8.9" fill="#fff" stroke="#252548" stroke-width="1.5"/>
<polygon points="377.92,614.12 401.92,628.11 431.60,610.63 407.60,596.64" fill="#fff" stroke="#252548" stroke-width="1.6" stroke-linejoin="round"/>
<polygon points="377.92,626.32 401.92,640.31 401.92,628.11 377.92,614.12" fill="#fff" stroke="#252548" stroke-width="1.6" stroke-linejoin="round"/>
<polyline points="377.92,622.59 401.92,636.58" fill="none" stroke="#252548" stroke-width="1.1" stroke-linejoin="round"/>
<polyline points="377.92,619.65 401.92,633.65" fill="none" stroke="#252548" stroke-width="1.1" stroke-linejoin="round"/>
<polyline points="407.60,596.64 431.60,610.63" fill="none" stroke="#252548" stroke-width="1.9" stroke-linejoin="round"/>
<polygon points="401.92,640.31 431.60,622.84 431.60,610.63 401.92,628.11" fill="#fff" stroke="#252548" stroke-width="1.6" stroke-linejoin="round"/>
<path d="M399.55,644.63 402.18,641.96 402.96,639.24 402.96,631.33 403.74,628.84 433.80,611.13 434.58,612.71 434.58,620.62 435.36,622.42 437.99,622.00 Z M403.93,641.72 403.93,630.42 404.52,629.51 433.03,612.72 433.61,612.94 433.61,624.24 Z" fill="#fff" fill-rule="evenodd" stroke="#252548" stroke-width="1.6" stroke-linejoin="round"/>
<polygon points="377.24,613.39 403.74,628.84 433.80,611.13 407.30,595.68" fill="#fff" stroke="#252548" stroke-width="1.6" stroke-linejoin="round"/>
<polygon points="376.46,614.41 402.96,629.86 402.96,641.50 402.18,642.64 375.68,627.19 376.46,626.05" fill="#fff" stroke="#252548" stroke-width="1.6" stroke-linejoin="round"/>
<polyline points="376.46,617.91 402.96,633.36" fill="none" stroke="#252548" stroke-width="1.0" stroke-linejoin="round"/>
<polyline points="376.46,614.41 377.24,613.39" fill="none" stroke="#252548" stroke-width="1.6" stroke-linejoin="round"/>
<ellipse cx="373.53" cy="628.09" rx="2.2" ry="1.3" fill="#252548"/>
<ellipse cx="400.03" cy="643.54" rx="2.2" ry="1.3" fill="#252548"/>
<line x1="404.71" y1="630.07" x2="432.83" y2="613.51" stroke="#252548" stroke-width="2.0"/>
</svg></body></html>
